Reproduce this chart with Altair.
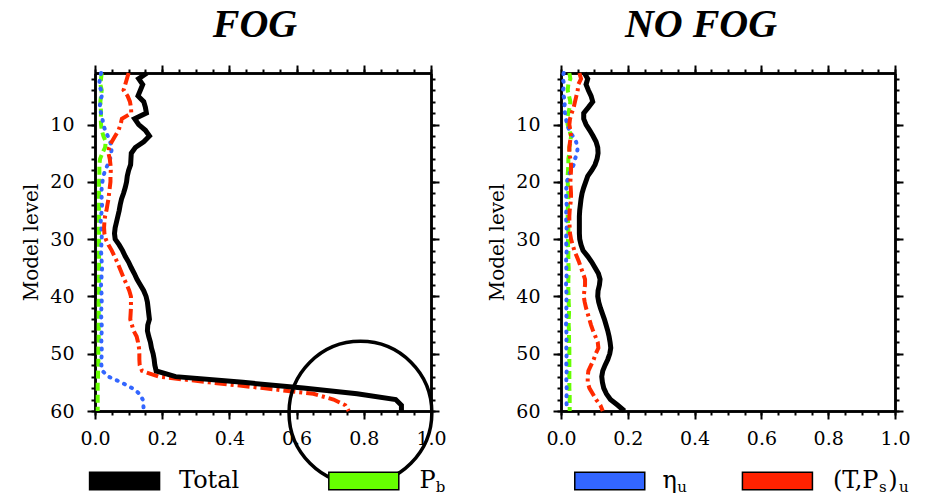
import altair as alt
import pandas as pd

levels = list(range(1, 61))

# ---------------- FOG panel ----------------
fog_total = [0.155, 0.130, 0.142, 0.135, 0.128, 0.145, 0.150, 0.153, 0.118, 0.130,
             0.150, 0.162, 0.145, 0.120, 0.108, 0.107, 0.106, 0.100, 0.096, 0.094,
             0.090, 0.085, 0.079, 0.075, 0.072, 0.068, 0.064, 0.060, 0.058, 0.060,
             0.072, 0.082, 0.090, 0.100, 0.108, 0.117, 0.125, 0.135, 0.145, 0.152,
             0.156, 0.158, 0.160, 0.162, 0.157, 0.156, 0.160, 0.165, 0.168, 0.173,
             0.176, 0.178, 0.182, 0.240, 0.440, 0.620, 0.780, 0.895, 0.912, 0.912]
fog_pb = [0.020, 0.018, 0.016, 0.020, 0.018, 0.016, 0.017, 0.018, 0.017, 0.018,
          0.020, 0.025, 0.032, 0.030, 0.022, 0.015, 0.013, 0.013, 0.013, 0.012,
          0.012, 0.012, 0.012, 0.012, 0.012, 0.012, 0.012, 0.012, 0.012, 0.012,
          0.012, 0.012, 0.012, 0.012, 0.012, 0.012, 0.012, 0.012, 0.012, 0.012,
          0.011, 0.011, 0.011, 0.011, 0.011, 0.011, 0.011, 0.011, 0.010, 0.010,
          0.010, 0.010, 0.009, 0.009, 0.008, 0.008, 0.008, 0.008, 0.008, 0.008]
fog_eta = [0.018, 0.015, 0.012, 0.018, 0.020, 0.016, 0.014, 0.018, 0.022, 0.025,
           0.030, 0.038, 0.045, 0.050, 0.048, 0.045, 0.038, 0.030, 0.025, 0.022,
           0.020, 0.019, 0.020, 0.021, 0.020, 0.018, 0.017, 0.019, 0.020, 0.020,
           0.019, 0.018, 0.019, 0.020, 0.021, 0.020, 0.019, 0.018, 0.019, 0.020,
           0.020, 0.019, 0.018, 0.019, 0.020, 0.020, 0.019, 0.019, 0.020, 0.020,
           0.019, 0.019, 0.022, 0.040, 0.078, 0.110, 0.133, 0.142, 0.144, 0.145]
fog_tps = [0.100, 0.095, 0.090, 0.085, 0.097, 0.104, 0.107, 0.108, 0.080, 0.076,
           0.070, 0.060, 0.050, 0.042, 0.040, 0.044, 0.046, 0.047, 0.046, 0.046,
           0.044, 0.042, 0.040, 0.037, 0.034, 0.030, 0.028, 0.027, 0.028, 0.032,
           0.040, 0.050, 0.058, 0.066, 0.073, 0.080, 0.087, 0.095, 0.102, 0.107,
           0.107, 0.107, 0.106, 0.105, 0.110, 0.115, 0.124, 0.128, 0.131, 0.132,
           0.132, 0.133, 0.140, 0.190, 0.340, 0.500, 0.650, 0.710, 0.745, 0.755]

# ---------------- NO FOG panel ----------------
nofog_total = [0.070, 0.080, 0.075, 0.082, 0.090, 0.095, 0.082, 0.068, 0.068, 0.075,
               0.086, 0.096, 0.105, 0.110, 0.111, 0.108, 0.102, 0.092, 0.080, 0.074,
               0.068, 0.063, 0.060, 0.058, 0.056, 0.055, 0.055, 0.055, 0.055, 0.056,
               0.060, 0.066, 0.080, 0.092, 0.102, 0.112, 0.117, 0.115, 0.111, 0.110,
               0.113, 0.118, 0.124, 0.130, 0.135, 0.140, 0.144, 0.147, 0.149, 0.146,
               0.140, 0.132, 0.125, 0.122, 0.124, 0.128, 0.136, 0.148, 0.170, 0.190]
nofog_pb = [0.025, 0.028, 0.022, 0.020, 0.024, 0.028, 0.026, 0.022, 0.018, 0.020,
            0.025, 0.030, 0.028, 0.025, 0.025, 0.022, 0.022, 0.021, 0.020, 0.020,
            0.021, 0.022, 0.022, 0.021, 0.020, 0.020, 0.021, 0.022, 0.022, 0.021,
            0.021, 0.022, 0.022, 0.022, 0.023, 0.023, 0.022, 0.022, 0.022, 0.023,
            0.023, 0.024, 0.024, 0.023, 0.023, 0.024, 0.024, 0.024, 0.025, 0.025,
            0.025, 0.025, 0.025, 0.025, 0.025, 0.025, 0.026, 0.026, 0.026, 0.026]
nofog_eta = [0.008, 0.005, 0.010, 0.006, 0.008, 0.012, 0.010, 0.012, 0.015, 0.018,
             0.025, 0.035, 0.045, 0.050, 0.048, 0.042, 0.038, 0.030, 0.022, 0.018,
             0.016, 0.015, 0.016, 0.017, 0.016, 0.015, 0.016, 0.017, 0.016, 0.015,
             0.016, 0.017, 0.016, 0.015, 0.016, 0.017, 0.016, 0.015, 0.016, 0.017,
             0.016, 0.016, 0.017, 0.016, 0.015, 0.016, 0.017, 0.016, 0.016, 0.017,
             0.016, 0.016, 0.017, 0.016, 0.016, 0.017, 0.017, 0.016, 0.017, 0.018]
nofog_tps = [0.055, 0.060, 0.052, 0.050, 0.046, 0.042, 0.038, 0.032, 0.027, 0.025,
             0.028, 0.030, 0.027, 0.025, 0.025, 0.028, 0.030, 0.030, 0.029, 0.028,
             0.029, 0.030, 0.030, 0.028, 0.026, 0.025, 0.025, 0.026, 0.027, 0.030,
             0.035, 0.040, 0.047, 0.054, 0.060, 0.066, 0.072, 0.072, 0.070, 0.068,
             0.071, 0.075, 0.080, 0.085, 0.090, 0.096, 0.103, 0.110, 0.112, 0.104,
             0.098, 0.090, 0.082, 0.080, 0.080, 0.085, 0.095, 0.105, 0.118, 0.125]

# circled region in the FOG panel
circle_value = [0.79]
circle_level = [60.3]

x_major = [0.0, 0.2, 0.4, 0.6, 0.8, 1.0]
x_minor = [round(i * 0.05, 2) for i in range(21)]
y_major = [10, 20, 30, 40, 50, 60]
y_minor = list(range(2, 61, 2))

SERIES = ["P_b", "eta_u", "TPs_u", "Total"]
STYLE = {
    "Total": dict(color="#000000", strokeWidth=5),
    "P_b": dict(color="#66ff00", strokeWidth=4, strokeDash=[8, 4]),
    "eta_u": dict(color="#3366ff", strokeWidth=4, strokeDash=[1, 7], strokeCap="round"),
    "TPs_u": dict(color="#ff2a00", strokeWidth=4, strokeDash=[12, 4, 3, 4]),
}

H = 338
LEG_Y = H + 70
BOX_PATH = "M-1,-0.25H1V0.25H-1Z"
AX_FONT = "DejaVu Serif"
TXT_FONT = "DejaVu Serif"

common_axis = dict(domainColor="black", domainWidth=2.5, tickColor="black", tickWidth=2,
                   grid=False, labelFont=AX_FONT, labelFontSize=19, labelColor="black",
                   titleFont=AX_FONT, titleFontSize=20, titleColor="black",
                   titleFontWeight="normal", labelFlush=False, labelOverlap=False)


def panel(width, title, title_dx, data, legend_items, label_items, sub_items, circle=None):
    xs = alt.Scale(domain=[0, 1], nice=False, zero=False)
    ys = alt.Scale(domain=[1, 60], nice=False, zero=False, reverse=True)
    rows = []
    for s, vals in data.items():
        for lv, v in zip(levels, vals):
            rows.append({"series": s, "level": lv, "value": v})
    df = pd.DataFrame(rows)

    def axes(xa, ya):
        return alt.Chart(df).mark_point(opacity=0).encode(
            x=alt.X("value:Q", scale=xs, axis=xa),
            y=alt.Y("level:Q", scale=ys, axis=ya))

    layers = [
        axes(alt.Axis(orient="bottom", values=x_major, format=".1f", tickSize=8,
                      labelPadding=10, title=None, **common_axis),
             alt.Axis(orient="left", values=y_major, tickSize=8, labelPadding=13,
                      title="Model level", titlePadding=8, **common_axis)),
        axes(alt.Axis(orient="bottom", values=x_minor, tickSize=4, labels=False, title=None, **common_axis),
             alt.Axis(orient="left", values=y_minor, tickSize=4, labels=False, title=None, **common_axis)),
        axes(alt.Axis(orient="top", values=x_major, tickSize=8, labels=False, title=None, **common_axis),
             alt.Axis(orient="right", values=y_major, tickSize=8, labels=False, title=None, **common_axis)),
        axes(alt.Axis(orient="top", values=x_minor, tickSize=4, labels=False, title=None, **common_axis),
             alt.Axis(orient="right", values=y_minor, tickSize=4, labels=False, title=None, **common_axis)),
    ]
    for s in SERIES:
        layers.append(
            alt.Chart(df[df.series == s]).mark_line(**STYLE[s]).encode(
                x=alt.X("value:Q", scale=xs, axis=None),
                y=alt.Y("level:Q", scale=ys, axis=None),
                order=alt.Order("level:Q")))
    if circle is not None:
        layers.append(
            alt.Chart(circle).mark_point(shape="circle", size=20400, filled=False,
                                         stroke="black", strokeWidth=3.5, opacity=1).encode(
                x=alt.X("value:Q", scale=xs, axis=None),
                y=alt.Y("level:Q", scale=ys, axis=None)))
    layers.append(
        alt.Chart(legend_items).mark_point(shape=BOX_PATH, size=4900, filled=True,
                                           stroke="black", strokeWidth=1.5, opacity=1).encode(
            x=alt.X("pos:Q", scale=xs, axis=None),
            y=alt.value(LEG_Y),
            fill=alt.Fill("color:N", scale=None)))
    layers.append(
        alt.Chart(label_items).mark_text(align="left", baseline="middle", font=TXT_FONT,
                                         fontSize=24, color="black").encode(
            x=alt.X("pos:Q", scale=xs, axis=None),
            y=alt.value(LEG_Y),
            text="text:N"))
    layers.append(
        alt.Chart(sub_items).mark_text(align="left", baseline="middle", font=TXT_FONT,
                                       fontSize=15, color="black").encode(
            x=alt.X("pos:Q", scale=xs, axis=None),
            y=alt.value(LEG_Y + 6),
            text="text:N"))
    return alt.layer(*layers).resolve_axis(x="independent", y="independent").properties(
        width=width, height=H,
        title=alt.TitleParams(title, font="Liberation Serif", fontSize=40, fontWeight="bold",
                              fontStyle="italic", color="black", anchor="middle",
                              dx=title_dx, offset=18))


left_leg = pd.DataFrame({"pos": [0.088, 0.80], "color": ["#000000", "#66ff00"]})
left_lab = pd.DataFrame({"pos": [0.25, 0.966], "text": ["Total", "P"]})
left_sub = pd.DataFrame({"pos": [1.014], "text": ["b"]})
right_leg = pd.DataFrame({"pos": [0.146, 0.648], "color": ["#3366ff", "#ff2200"]})
right_lab = pd.DataFrame({"pos": [0.304, 0.814, 0.980], "text": ["η", "(T,P", ")"]})
right_sub = pd.DataFrame({"pos": [0.348, 0.952, 1.012], "text": ["u", "s", "u"]})

circle_df = pd.DataFrame({"value": circle_value, "level": circle_level})

left = panel(336, "FOG", -8, {"Total": fog_total, "P_b": fog_pb, "eta_u": fog_eta, "TPs_u": fog_tps},
             left_leg, left_lab, left_sub, circle_df)
right = panel(334, "NO FOG", -27, {"Total": nofog_total, "P_b": nofog_pb, "eta_u": nofog_eta, "TPs_u": nofog_tps},
              right_leg, right_lab, right_sub)

chart = alt.hconcat(left, right, spacing=40).properties(
    padding={"left": 21, "top": 5, "right": 5, "bottom": 0},
    background="white",
).configure_view(stroke=None)

chart.save("out.html", embed_options={"renderer": "svg", "actions": False})
